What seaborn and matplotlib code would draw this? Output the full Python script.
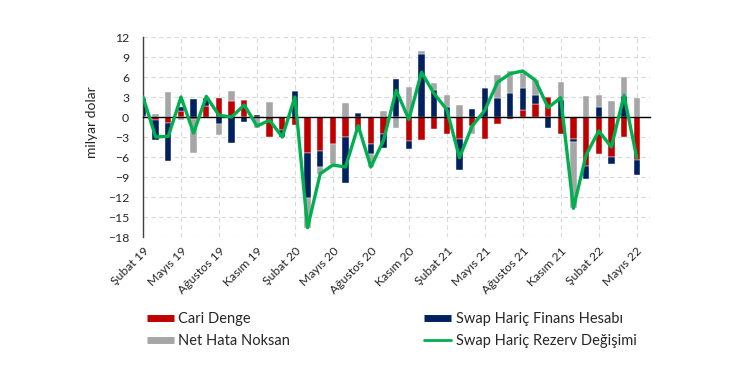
import numpy as np
import matplotlib
matplotlib.use("Agg")
import matplotlib.pyplot as plt
import seaborn as sns
from matplotlib.lines import Line2D

# Monthly data, Feb 2019 - May 2022 (billion USD)
month_names = ["Ocak", "Şubat", "Mart", "Nisan", "Mayıs", "Haziran", "Temmuz",
               "Ağustos", "Eylül", "Ekim", "Kasım", "Aralık"]
months = [f"{month_names[m]} {y % 100}" for y in range(2019, 2023) for m in range(12)][1:41]

cari_denge = [0.1, -0.5, -0.85, 0.9, -0.35, 1.65, 2.9, 2.4, 2.5, 0.0,
              -3.0, -2.0, -1.2, -5.4, -5.1, -4.0, -3.0, -2.0, -4.1, -2.6,
              0.0, -3.6, -3.45, -1.85, -2.5, -3.35, -1.35, -3.35, -1.1, -0.35,
              1.0, 1.9, 3.05, -2.6, -3.35, -7.3, -5.5, -6.0, -3.0, -6.5]
finans_hesabi = [2.8, -3.0, -5.7, 0.65, 2.75, 1.25, -1.1, -3.9, -0.7, 0.3,
                 0.0, -1.0, 3.9, -6.7, -2.4, 0.0, -6.9, 0.65, -1.5, -2.0,
                 5.7, -1.15, 9.4, 4.0, 1.55, -4.6, 1.25, 4.4, 2.9, 3.55,
                 3.4, 1.35, -1.6, 2.5, -0.4, -1.95, 1.55, -1.0, 3.15, -2.25]
net_hata = [0.0, 0.4, 3.7, -0.5, -5.0, 0.0, -1.6, 1.5, 0.0, -1.6,
            2.3, 0.0, 0.0, -4.5, -1.0, -3.1, 2.15, 0.0, -1.9, 0.9,
            -1.6, 4.5, 0.5, 1.15, 1.7, 1.8, -1.15, 0.0, 3.35, 3.35,
            2.25, 2.25, 0.0, 2.8, -9.9, 3.15, 1.7, 2.4, 2.85, 2.8]
rezerv_degisimi = [3.0, -3.0, -2.9, 3.0, -2.4, 3.1, 0.25, 0.0, 1.8, -1.35,
                   -0.5, -3.0, 3.0, -16.6, -8.5, -7.2, -7.5, -1.3, -7.5, -3.5,
                   4.0, -0.35, 6.7, 3.5, 1.1, -6.1, -1.35, 1.0, 5.2, 6.5,
                   6.9, 5.5, 1.4, 2.9, -13.7, -5.7, -2.1, -4.5, 3.25, -6.1]

sns.set_theme(style="white")
plt.rcParams["font.family"] = ["Lato", "DejaVu Sans"]

fig = plt.figure(figsize=(7.5, 3.75), dpi=100)
ax = fig.add_axes([143 / 750, 1 - 237 / 375, 507 / 750, 200 / 375])

x = np.arange(len(months))
series = [
    ("Cari Denge", cari_denge, "#C00000"),
    ("Swap Hariç Finans Hesabı", finans_hesabi, "#002060"),
    ("Net Hata Noksan", net_hata, "#A6A6A6"),
]
pos_base = np.zeros(len(months))
neg_base = np.zeros(len(months))
for name, vals, color in series:
    vals = np.array(vals)
    bottom = np.where(vals >= 0, pos_base, neg_base)
    ax.bar(x, vals, width=0.5, bottom=bottom, color=color, edgecolor="white",
           linewidth=0.3, zorder=2)
    pos_base += np.clip(vals, 0, None)
    neg_base += np.clip(vals, None, 0)

sns.lineplot(x=x, y=rezerv_degisimi, ax=ax, color="#00B050", linewidth=2.4, zorder=4)

ax.set_ylim(-18, 12)
ax.set_xlim(0, 40.05)
ax.set_yticks(np.arange(-18, 13, 3))
ax.yaxis.grid(True, linestyle=(0, (4, 3)), color="#D9D9D9", linewidth=0.8, zorder=0)
ax.xaxis.grid(True, linestyle=(0, (4, 3)), color="#D9D9D9", linewidth=0.8, zorder=0)
ax.set_axisbelow(True)
ax.tick_params(axis="y", length=0, pad=10, labelsize=8.8, colors="#262626")

for s in ["top", "right"]:
    ax.spines[s].set_visible(False)
ax.spines["left"].set_color("#404040")
ax.spines["left"].set_linewidth(1.0)
ax.spines["bottom"].set_position(("data", 0))
ax.spines["bottom"].set_color("black")
ax.spines["bottom"].set_linewidth(1.0)
ax.spines["bottom"].set_zorder(3)

tick_pos = x[::3]
ax.set_xticks(tick_pos)
ax.set_xticklabels([])
ax.tick_params(axis="x", length=3, width=0.8, direction="out", color="black")

sec = ax.secondary_xaxis("bottom")
sec.set_xticks(tick_pos)
sec.set_xticklabels([months[i] for i in tick_pos], rotation=45, ha="right",
                    rotation_mode="anchor", fontsize=8.8, color="#262626")
sec.tick_params(length=0, pad=6)
sec.spines["bottom"].set_visible(False)

ax.set_ylabel("milyar dolar", fontsize=10, color="#262626")
ax.yaxis.set_label_coords(-0.089, 0.575)

handles = [
    Line2D([0], [0], color="#C00000", lw=5, solid_capstyle="butt"),
    Line2D([0], [0], color="#A6A6A6", lw=5, solid_capstyle="butt"),
    Line2D([0], [0], color="#002060", lw=5, solid_capstyle="butt"),
    Line2D([0], [0], color="#00B050", lw=2),
]
labels = ["Cari Denge", "Net Hata Noksan", "Swap Hariç Finans Hesabı", "Swap Hariç Rezerv Değişimi"]
fig.legend(handles, labels, ncol=2, loc="upper left", bbox_to_anchor=(147 / 750, 1 - 312 / 375),
           frameon=False, fontsize=10.5, handlelength=1.85, handletextpad=0.3,
           labelspacing=0.55, columnspacing=9.2, borderpad=0, borderaxespad=0,
           labelcolor="#262626")

fig.savefig("out.png", dpi=100)
